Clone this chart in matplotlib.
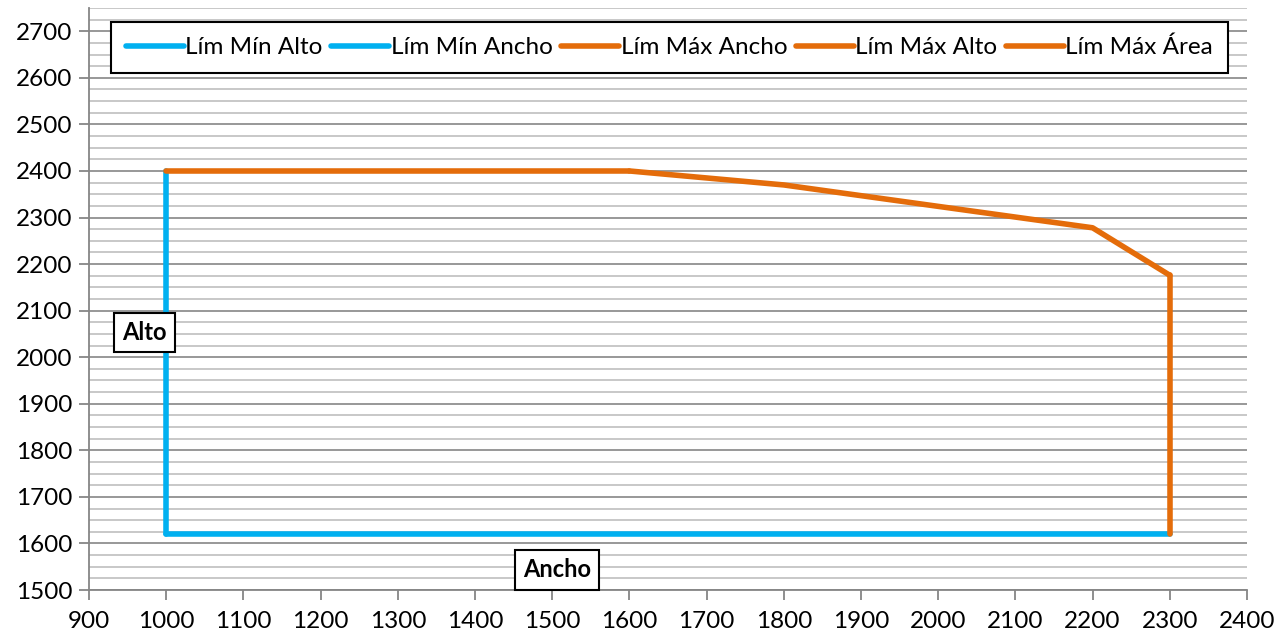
import numpy as np
import matplotlib.pyplot as plt
from matplotlib.ticker import MultipleLocator

plt.rcParams['font.family'] = ['Lato', 'DejaVu Sans']

# datos de los limites
min_alto_x = [1000, 2300]
min_alto_y = [1620, 1620]
min_ancho_x = [1000, 1000]
min_ancho_y = [1620, 2400]
max_ancho_x = [2300, 2300]
max_ancho_y = [1620, 2176]
max_alto_x = [1000, 1600]
max_alto_y = [2400, 2400]
max_area_x = [1600, 1800, 2200, 2300]
max_area_y = [2400, 2370, 2278, 2176]

azul = '#00B0F0'
naranja = '#E46C0A'

fig = plt.figure(figsize=(12.77, 6.36), dpi=100)
ax = fig.add_axes([0.0697, 0.0723, 0.9068, 0.9151])

lw = 4.0
ax.plot(min_alto_x, min_alto_y, color=azul, lw=lw, label='Lím Mín Alto', solid_capstyle='round')
ax.plot(min_ancho_x, min_ancho_y, color=azul, lw=lw, label='Lím Mín Ancho', solid_capstyle='round')
ax.plot(max_ancho_x, max_ancho_y, color=naranja, lw=lw, label='Lím Máx Ancho', solid_capstyle='round')
ax.plot(max_alto_x, max_alto_y, color=naranja, lw=lw, label='Lím Máx Alto', solid_capstyle='round')
ax.plot(max_area_x, max_area_y, color=naranja, lw=lw, label='Lím Máx Área', solid_capstyle='round')

ax.set_xlim(900, 2400)
ax.set_ylim(1500, 2750)
ax.xaxis.set_major_locator(MultipleLocator(100))
ax.yaxis.set_major_locator(MultipleLocator(100))
ax.yaxis.set_minor_locator(MultipleLocator(25))

ax.grid(axis='y', which='major', color='#868686', lw=1.2)
ax.grid(axis='y', which='minor', color='#BFBFBF', lw=1.2)
ax.set_axisbelow(True)

for s in ['top', 'right']:
    ax.spines[s].set_visible(False)
for s in ['left', 'bottom']:
    ax.spines[s].set_color('#868686')
    ax.spines[s].set_linewidth(1.3)

ax.tick_params(which='major', length=7, width=1.3, color='#868686', labelsize=17.5, pad=5)
ax.tick_params(which='minor', length=0)
ax.tick_params(axis='x', pad=8)

leg = ax.legend(loc='upper left', bbox_to_anchor=(0.019, 0.976), ncol=5, fontsize=17.5,
                frameon=True, fancybox=False, edgecolor='black', handlelength=2.4,
                handletextpad=0.05, columnspacing=0.35, borderpad=0.6, borderaxespad=0)
leg.get_frame().set_linewidth(1.5)
leg.get_frame().set_alpha(1)

caja = dict(boxstyle='square,pad=0.35', fc='white', ec='black', lw=1.5)
ax.text(972, 2053, 'Alto', ha='center', va='center', fontsize=17, fontweight='bold', bbox=caja)
ax.text(1506, 1543, 'Ancho', ha='center', va='center', fontsize=17, fontweight='bold', bbox=caja)

fig.savefig('out.png', dpi=100)
